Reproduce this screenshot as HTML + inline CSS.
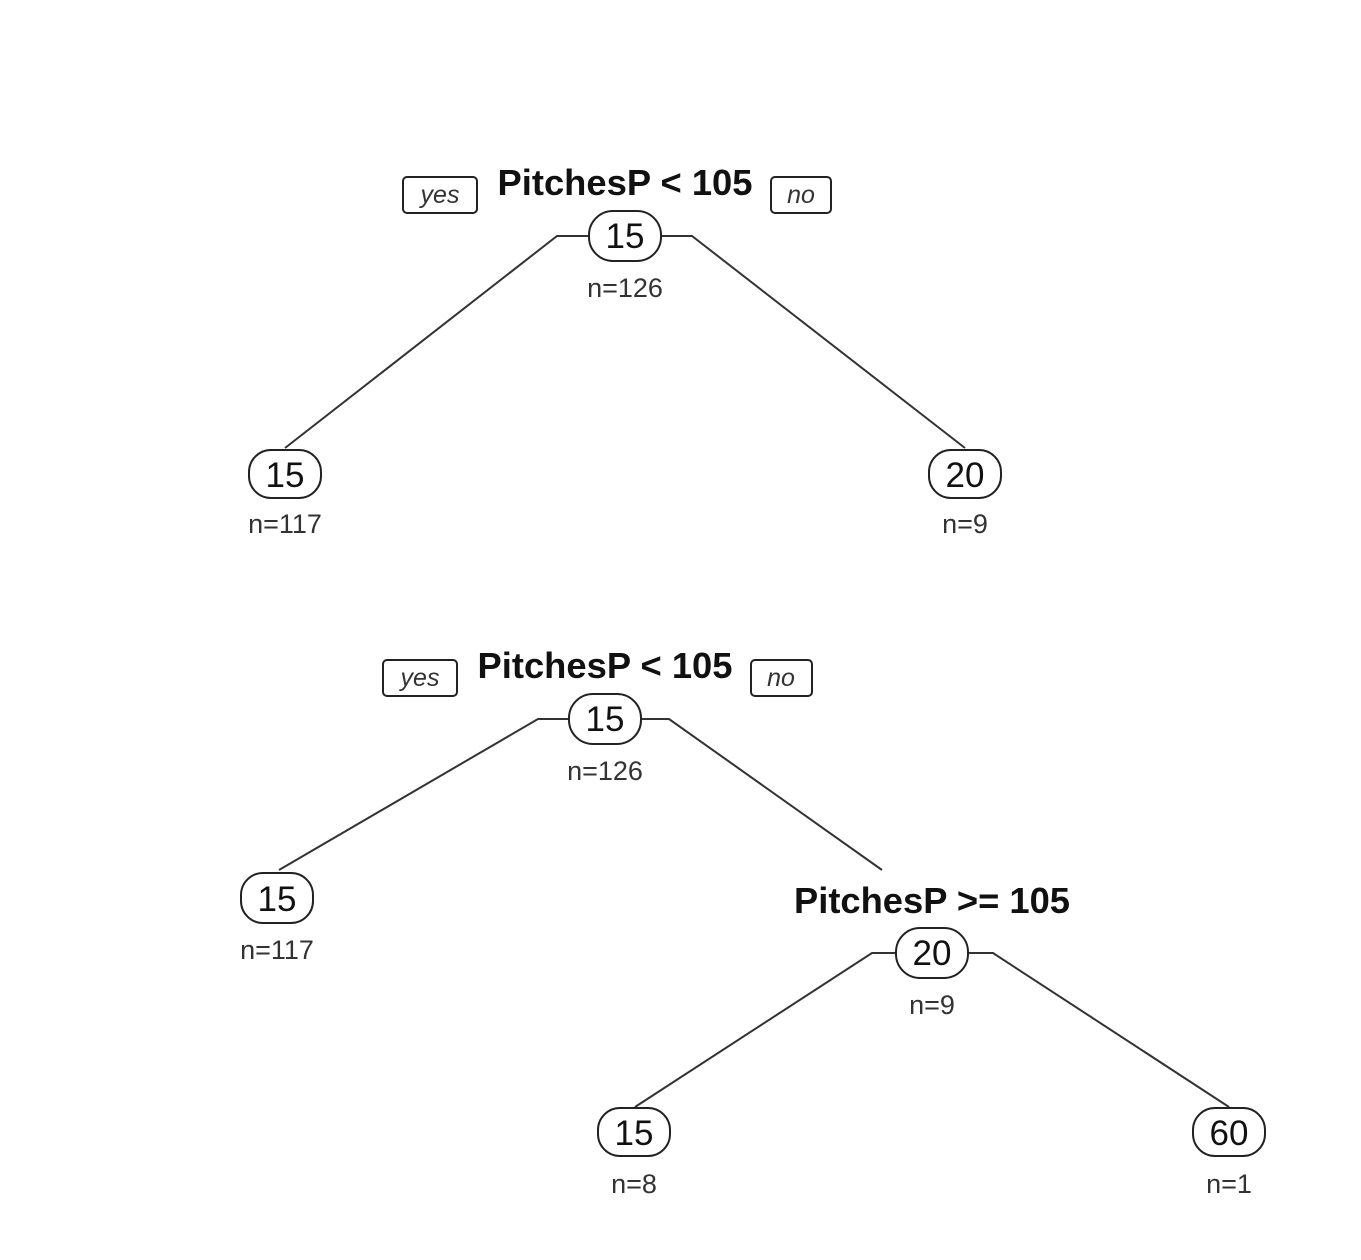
<!DOCTYPE html>
<html><head><style>body{margin:0;background:#fff}svg{display:block}</style></head><body>
<svg width="1361" height="1260" xmlns="http://www.w3.org/2000/svg" font-family="Liberation Sans, Arial, sans-serif">
<g fill="none" stroke="#333" stroke-width="2">
<polyline points="285,448 557,236 589,236"/>
<polyline points="661,236 692,236 965,448"/>
<polyline points="279,870 538,719 569,719"/>
<polyline points="641,719 669,719 882,870"/>
<polyline points="635,1107 872,953 896,953"/>
<polyline points="968,953 993,953 1229,1107"/>
<g stroke="#222">
<rect x="589" y="211" width="72" height="50" rx="24"/>
<rect x="249" y="450" width="72" height="48" rx="22"/>
<rect x="929" y="450" width="72" height="48" rx="22"/>
<rect x="569" y="694" width="72" height="50" rx="24"/>
<rect x="241" y="873" width="72" height="50" rx="22"/>
<rect x="896" y="928" width="72" height="50" rx="24"/>
<rect x="598" y="1108" width="72" height="48" rx="22"/>
<rect x="1193" y="1108" width="72" height="48" rx="22"/>
<rect x="403" y="177" width="74" height="36" rx="4"/>
<rect x="771" y="177" width="60" height="36" rx="4"/>
<rect x="383" y="660" width="74" height="36" rx="4"/>
<rect x="751" y="660" width="61" height="36" rx="4"/>
</g></g>
<g text-anchor="middle" fill="#111">
<g font-size="36" font-weight="bold">
<text x="625" y="195" textLength="255" lengthAdjust="spacingAndGlyphs">PitchesP &lt; 105</text>
<text x="605" y="678" textLength="255" lengthAdjust="spacingAndGlyphs">PitchesP &lt; 105</text>
<text x="932" y="913" textLength="276" lengthAdjust="spacingAndGlyphs">PitchesP &gt;= 105</text>
</g>
<g font-size="25" font-style="italic" fill="#333">
<text x="440" y="203">yes</text>
<text x="801" y="203">no</text>
<text x="420" y="686">yes</text>
<text x="781" y="686">no</text>
</g>
<g font-size="35">
<text x="625" y="248">15</text>
<text x="285" y="487">15</text>
<text x="965" y="487">20</text>
<text x="605" y="731">15</text>
<text x="277" y="911">15</text>
<text x="932" y="965">20</text>
<text x="634" y="1145">15</text>
<text x="1229" y="1145">60</text>
</g>
<g font-size="27" fill="#333">
<text x="625" y="297">n=126</text>
<text x="285" y="533">n=117</text>
<text x="965" y="533">n=9</text>
<text x="605" y="780">n=126</text>
<text x="277" y="959">n=117</text>
<text x="932" y="1014">n=9</text>
<text x="634" y="1193">n=8</text>
<text x="1229" y="1193">n=1</text>
</g></g>
</svg>
</body></html>
